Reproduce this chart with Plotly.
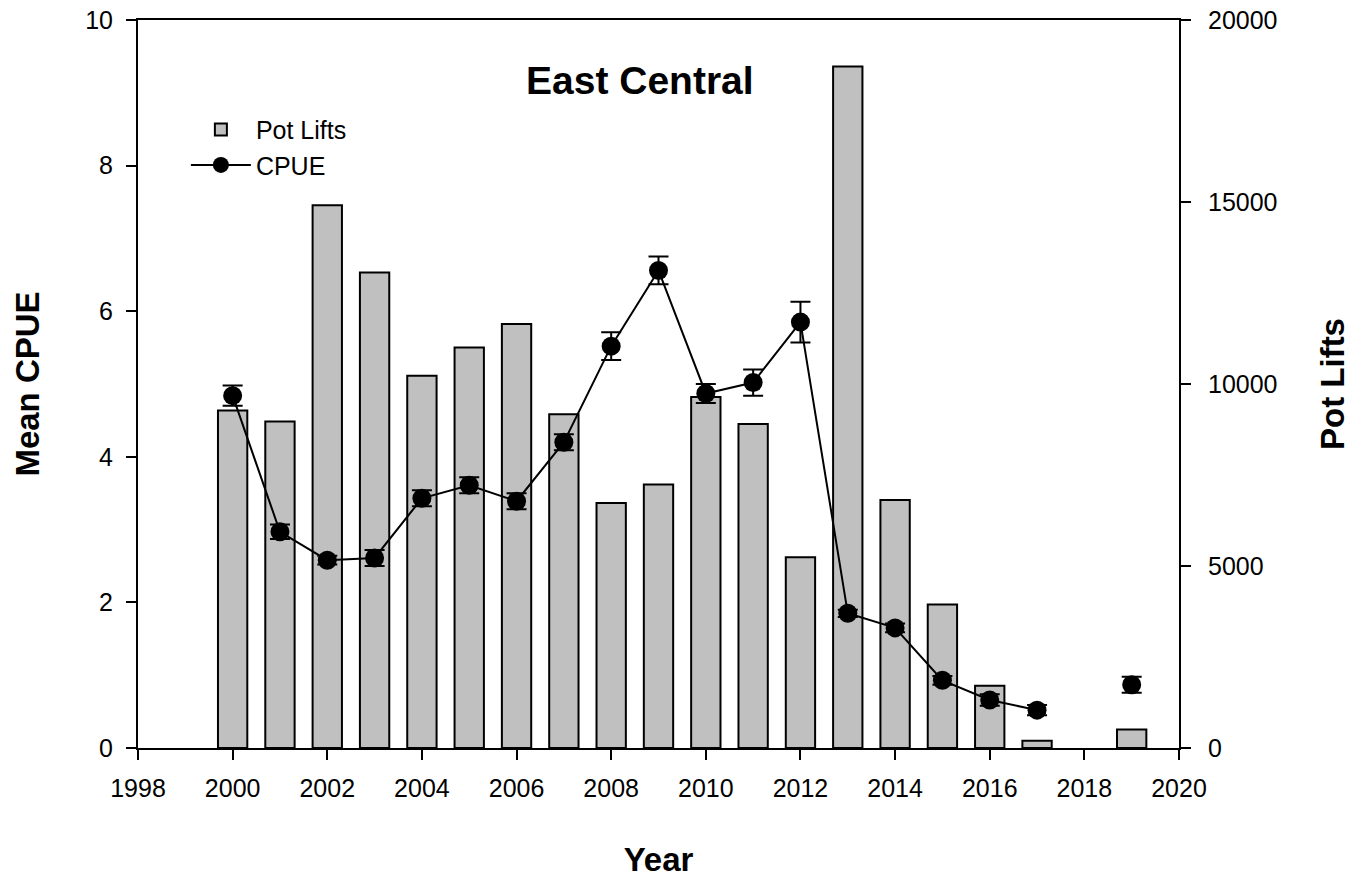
import plotly.graph_objects as go

years = [2000, 2001, 2002, 2003, 2004, 2005, 2006, 2007, 2008, 2009,
         2010, 2011, 2012, 2013, 2014, 2015, 2016, 2017, 2018, 2019]
pot_lifts = [9270, 8970, 14910, 13060, 10230, 11000, 11650, 9170, 6730, 7240,
             9640, 8900, 5240, 18720, 6810, 3940, 1710, 200, None, 510]
cpue = [4.84, 2.97, 2.58, 2.61, 3.43, 3.61, 3.39, 4.20, 5.52, 6.56,
        4.87, 5.02, 5.85, 1.85, 1.65, 0.93, 0.66, 0.52, None, 0.87]
cpue_se = [0.14, 0.10, 0.06, 0.11, 0.11, 0.11, 0.11, 0.11, 0.19, 0.19,
           0.13, 0.18, 0.28, 0.05, 0.06, 0.06, 0.08, 0.07, None, 0.11]

x_ticks = list(range(1998, 2021, 2))
cpue_ticks = [0, 2, 4, 6, 8, 10]
lift_ticks = [0, 5000, 10000, 15000, 20000]
lift_tick_text = ["0", "5000", "10000", "15000", "20000"]

FONT = "Liberation Sans, Arial, sans-serif"

fig = go.Figure()
fig.add_trace(go.Bar(
    x=years, y=pot_lifts, name="Pot Lifts", yaxis="y",
    width=0.62,
    marker=dict(color="#c0c0c0", line=dict(color="black", width=2)),
))
fig.add_trace(go.Scatter(
    x=years, y=cpue, name="CPUE", yaxis="y2",
    mode="lines+markers", connectgaps=False,
    line=dict(color="black", width=2),
    marker=dict(size=19, color="black"),
    error_y=dict(type="data", array=cpue_se, color="black", thickness=2, width=10),
))

axis_common = dict(
    showline=True, linecolor="black", linewidth=2,
    ticks="outside", ticklen=10, tickwidth=2, tickcolor="black",
    showgrid=False, zeroline=False, ticklabeloverflow="allow", automargin=False,
    tickfont=dict(size=25, color="black", family=FONT),
)

fig.update_layout(
    width=1354, height=880,
    margin=dict(l=138, r=175, t=20, b=132, autoexpand=False),
    paper_bgcolor="white", plot_bgcolor="white",
    font=dict(family=FONT, color="black"),
    xaxis=dict(
        range=[1998, 2020], tickvals=x_ticks, mirror=True, ticklabelstandoff=7,
        title=dict(text="<b>Year</b>", font=dict(size=33, family=FONT), standoff=47),
        **axis_common,
    ),
    yaxis=dict(
        range=[0, 20000], tickvals=lift_ticks, ticktext=lift_tick_text,
        side="right", ticklabelstandoff=12,
        title=dict(text="<b>Pot Lifts</b>", font=dict(size=33, family=FONT), standoff=44),
        **axis_common,
    ),
    yaxis2=dict(
        range=[0, 10], tickvals=cpue_ticks, side="left", overlaying="y", anchor="x",
        ticklabelstandoff=8,
        title=dict(text="<b>Mean CPUE</b>", font=dict(size=33, family=FONT), standoff=36),
        **axis_common,
    ),
    showlegend=True,
    legend=dict(
        x=0.046, y=0.881, xanchor="left", yanchor="top",
        bgcolor="rgba(0,0,0,0)", font=dict(size=25, family=FONT),
        traceorder="normal", itemwidth=60, tracegroupgap=0,
    ),
    annotations=[dict(
        text="<b>East Central</b>", xref="paper", yref="paper",
        x=0.482, y=0.917, xanchor="center", yanchor="middle",
        showarrow=False, font=dict(size=39, family=FONT, color="black"),
    )],
)

fig.write_html("out.html", config={"displayModeBar": False},
               post_script="document.body.style.margin='0';")
